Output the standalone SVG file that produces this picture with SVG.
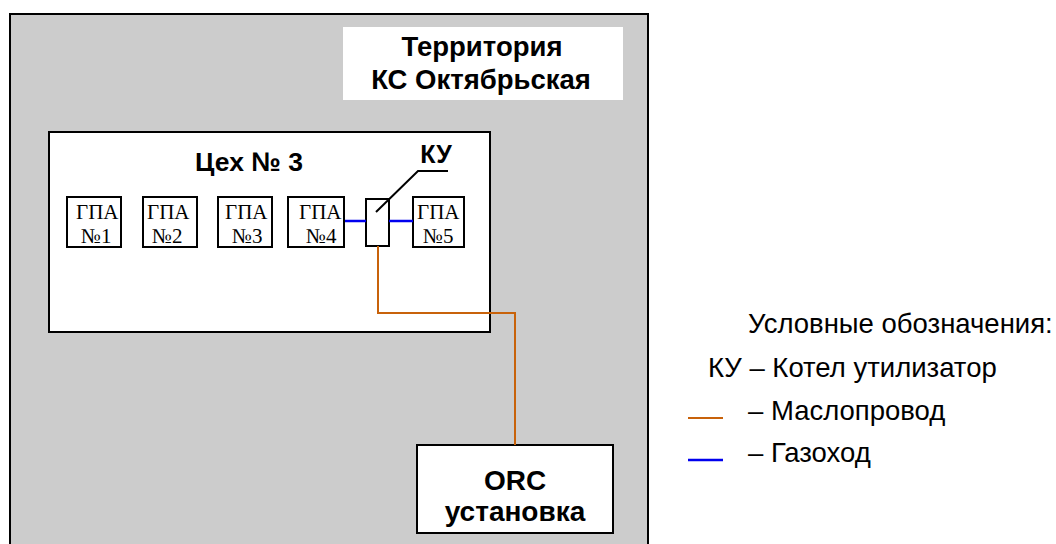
<svg xmlns="http://www.w3.org/2000/svg" width="1056" height="544" viewBox="0 0 1056 544">
<style>
.box{fill:#fff;stroke:#000;stroke-width:2}
.b{font-family:"Liberation Sans",Arial,sans-serif;font-weight:bold;fill:#000}
.r{font-family:"Liberation Sans",Arial,sans-serif;fill:#000;font-size:27.5px}
.t{font-family:"Liberation Serif","Times New Roman",serif;font-size:21px;fill:#000}
.oil{fill:none;stroke:#c8620a;stroke-width:2}
.gas{fill:none;stroke:#0000ee;stroke-width:2.5}
</style>
<rect width="1056" height="544" fill="#fff"/>
<g id="territory">
<rect x="10" y="14" width="638" height="540" fill="#cccccc" stroke="#000" stroke-width="2"/>
<rect x="343" y="27" width="280" height="73" fill="#fff"/>
<text class="b" font-size="27.5" x="482" y="56" text-anchor="middle">Территория</text>
<text class="b" font-size="27.5" x="481" y="89" text-anchor="middle">КС Октябрьская</text>
</g>
<g id="shop3">
<rect class="box" x="49" y="132" width="441" height="200"/>
<text class="b" font-size="26.5" x="249" y="171" text-anchor="middle">Цех № 3</text>
</g>
<g id="gpa1"><rect class="box" x="67" y="197" width="54" height="50"/><text class="t" x="76" y="219">ГПА</text><text class="t" x="81" y="243">№1</text></g>
<g id="gpa2"><rect class="box" x="143" y="197" width="54" height="50"/><text class="t" x="147" y="219">ГПА</text><text class="t" x="152" y="243">№2</text></g>
<g id="gpa3"><rect class="box" x="218" y="197" width="54" height="50"/><text class="t" x="225" y="219">ГПА</text><text class="t" x="232" y="243">№3</text></g>
<g id="gpa4"><rect class="box" x="288" y="197" width="56" height="50"/><text class="t" x="299" y="219">ГПА</text><text class="t" x="306" y="243">№4</text></g>
<g id="gpa5"><rect class="box" x="413" y="197" width="51" height="50"/><text class="t" x="417" y="219">ГПА</text><text class="t" x="423" y="243">№5</text></g>
<g id="ku">
<rect class="box" x="366" y="199" width="23" height="47"/>
<text class="b" font-size="25" x="436" y="163" text-anchor="middle">КУ</text>
<polyline points="376,212 418,171 448,171" fill="none" stroke="#000" stroke-width="2"/>
</g>
<g id="orc">
<rect class="box" x="417" y="445" width="196" height="88"/>
<text class="b" font-size="28" x="515" y="490" text-anchor="middle">ORC</text>
<text class="b" font-size="28" x="515" y="521" text-anchor="middle">установка</text>
</g>
<g id="connectors">
<line class="gas" x1="345" y1="221" x2="366" y2="221"/>
<line class="gas" x1="389" y1="221" x2="413" y2="221"/>
<polyline class="oil" points="378,246 378,313 515,313 515,445"/>
</g>
<g id="legend">
<text class="r" x="748" y="333">Условные обозначения:</text>
<text class="r" x="708" y="377">КУ – Котел утилизатор</text>
<line class="oil" x1="688" y1="418" x2="723" y2="418"/>
<text class="r" x="748" y="420">– Маслопровод</text>
<line class="gas" x1="688" y1="460" x2="723" y2="460"/>
<text class="r" x="748" y="462">– Газоход</text>
</g>
</svg>
